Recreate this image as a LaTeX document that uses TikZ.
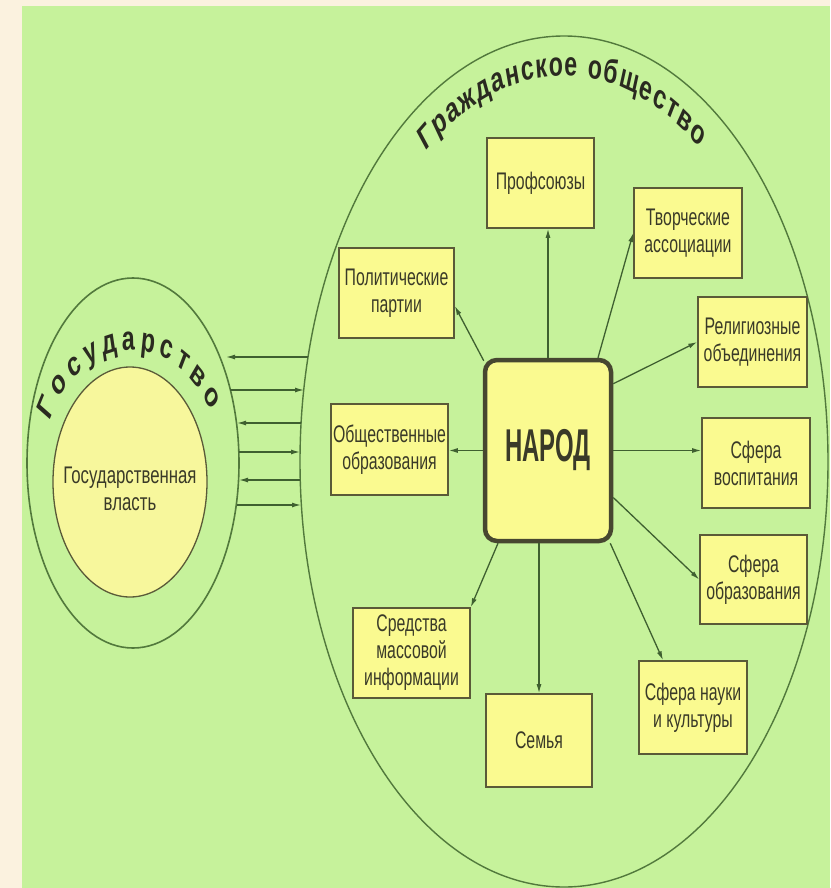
\documentclass[tikz,border=0pt]{standalone}
\usepackage{fontspec}
\usetikzlibrary{arrows.meta,decorations.text,calc}
\newfontfamily\boxfont[FakeStretch=0.66]{Liberation Sans}
\newfontfamily\powerfont[FakeStretch=0.7]{Liberation Sans}
\newfontfamily\narodfont[FakeStretch=0.52]{Liberation Sans}
\newfontfamily\arcfont{Liberation Sans}
\definecolor{beige}{HTML}{FBF2DF}
\definecolor{bggreen}{HTML}{C6F29B}
\definecolor{boxfill}{HTML}{FAFA90}
\definecolor{powerfill}{HTML}{F7F79C}
\definecolor{txt}{HTML}{3A3A28}
\definecolor{arctxt}{HTML}{2A2A20}
\definecolor{ellline}{HTML}{52793C}
\definecolor{boxline}{HTML}{5A5A38}
\definecolor{narodline}{HTML}{474730}
\definecolor{arrowc}{HTML}{3F6030}
\begin{document}
\begin{tikzpicture}[x=1pt,y=-1pt,
  box/.style={draw=boxline, line width=1.6pt, fill=boxfill, inner sep=0pt,
    align=center, text=txt, font=\boxfont\fontsize{24}{27}\selectfont},
  conn/.style={draw=arrowc, line width=1.3pt, -{Latex[length=9pt,width=5pt]}},
  label/.style={align=center, text=txt, inner sep=0pt}]
\useasboundingbox (0,0) rectangle (830,888);
\fill[beige] (0,0) rectangle (830,888);
\fill[bggreen] (22,6) rectangle (830,888);

% civil society ellipse
\draw[ellline, line width=1.4pt] (564,461.5) ellipse [x radius=264, y radius=425.5];
% state
\draw[ellline, line width=1.6pt] (133,463) ellipse [x radius=106, y radius=185];
\draw[boxline, line width=1.3pt, fill=powerfill] (130,482) ellipse [x radius=77, y radius=115];
\node[label, font=\powerfont\fontsize{24}{27}\selectfont] (power) at (130,489) {Государственная\\власть};

% curved texts
\begin{scope}[transform canvas={xscale=0.68}]
\path[decorate, decoration={text along path, text align=fit to path,
  text={|\arcfont\bfseries\fontsize{34}{36}\selectfont\color{arctxt}|Гражданское общество}}]
  (829.4,461.5) ++(233.5:342 and 386) arc[start angle=233.5, end angle=305.6, x radius=342, y radius=386];
\path[decorate, decoration={text along path, text align=fit to path,
  text={|\arcfont\bfseries\fontsize{34}{36}\selectfont\color{arctxt}|Государство}}]
  (194.1,470) ++(204:133 and 120) arc[start angle=204, end angle=331, x radius=133, y radius=120];
\end{scope}

% boxes
\node[box, minimum width=107, minimum height=90] (prof) at (540.5,183) {Профсоюзы};
\node[box, minimum width=108, minimum height=90] (tvor) at (688,233) {Творческие\\ассоциации};
\node[box, minimum width=115, minimum height=90] (polit) at (396.5,293) {Политические\\партии};
\node[box, minimum width=109, minimum height=90] (relig) at (752.5,342) {Религиозные\\объединения};
\node[box, minimum width=117, minimum height=91] (obsh) at (389.5,449.5) {Общественные\\образования};
\node[box, minimum width=108, minimum height=90] (vosp) at (756,463) {Сфера\\воспитания};
\node[box, minimum width=107, minimum height=89] (obraz) at (753.5,579.5) {Сфера\\образования};
\node[box, minimum width=117, minimum height=90] (smi) at (411.5,653) {Средства\\массовой\\информации};
\node[box, minimum width=106, minimum height=93] (semya) at (539,740.5) {Семья};
\node[box, minimum width=108, minimum height=93] (nauka) at (693,707.5) {Сфера науки\\и культуры};
\node[draw=narodline, line width=4.5pt, fill=boxfill, rounded corners=12pt,
  minimum width=126, minimum height=181, inner sep=0pt, text=txt,
  font=\narodfont\bfseries\fontsize{46}{46}\selectfont] (narod) at (548,450.5) {НАРОД};

% arrows from НАРОД
\draw[conn] (narod.north) -- (narod.north |- prof.south);
\draw[conn] ([xshift=50pt]narod.north) -- (tvor.west);
\draw[conn] ([xshift=1pt,yshift=-3pt]narod.north west) -- ([yshift=-13pt]polit.east);
\draw[conn] ([yshift=-26pt]narod.north east) -- (relig.west);
\draw[conn] (narod.west) -- (narod.west -| obsh.east);
\draw[conn] (narod.east) -- (narod.east -| vosp.west);
\draw[conn] ([yshift=-47pt]narod.east) -- (obraz.west);
\draw[conn] ([xshift=-3pt]narod.south east) -- ([xshift=-30pt]nauka.north);
\draw[conn] (semya.north |- narod.south) -- (semya.north);
\draw[conn] ([xshift=-50pt]narod.south) -- (smi.north east);

% state <-> civil society
\coordinate (s1) at (226,357); \coordinate (c1) at (308,357);
\coordinate (s2) at (230,390); \coordinate (c2) at (304,390);
\coordinate (s3) at (237,423); \coordinate (c3) at (301,423);
\coordinate (s4) at (239,452); \coordinate (c4) at (300,452);
\coordinate (s5) at (239,480); \coordinate (c5) at (300,480);
\coordinate (s6) at (237,505); \coordinate (c6) at (301,505);
\draw[conn] (c1) -- (s1);
\draw[conn] (s2) -- (c2);
\draw[conn] (c3) -- (s3);
\draw[conn] (s4) -- (c4);
\draw[conn] (c5) -- (s5);
\draw[conn] (s6) -- (c6);
\end{tikzpicture}
\end{document}
